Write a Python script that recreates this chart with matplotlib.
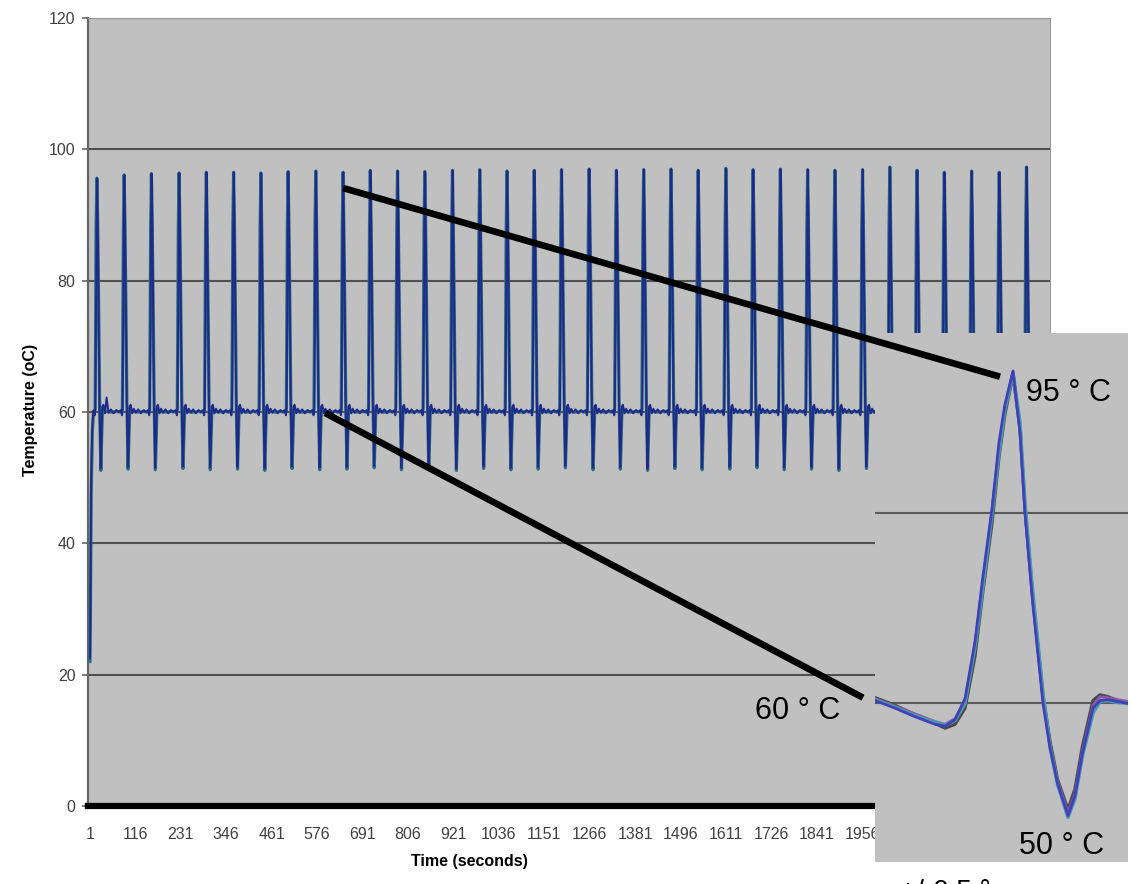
import numpy as np
import matplotlib.pyplot as plt
from matplotlib.patches import ConnectionPatch

plt.rcParams['font.family'] = ['Liberation Sans', 'DejaVu Sans']

# one entry per thermal cycle
peak_times = [19, 88, 157, 227, 296, 365, 434, 503, 573, 642, 711, 780, 849, 919, 988,
              1057, 1126, 1195, 1265, 1334, 1403, 1472, 1541, 1611, 1680, 1749, 1818,
              1887, 1957, 2026, 2095, 2164, 2233, 2303, 2372]
peak_temps = [95.6, 96.1, 96.3, 96.4, 96.5, 96.5, 96.4, 96.6, 96.7, 96.5, 96.8, 96.7,
              96.6, 96.8, 96.9, 96.7, 96.8, 96.9, 97.0, 96.8, 96.9, 97.0, 96.8, 97.1,
              96.9, 97.0, 96.9, 96.8, 96.9, 97.3, 96.8, 96.5, 96.7, 96.5, 97.3]
trough_temps = [51.4, 51.6, 51.5, 51.7, 51.5, 51.6, 51.4, 51.7, 51.5, 51.6, 51.8, 51.5,
                51.6, 51.4, 51.7, 51.5, 51.6, 51.8, 51.5, 51.6, 51.4, 51.7, 51.5, 51.6,
                51.8, 51.5, 51.6, 51.4, 51.7, 51.5, 51.6, 51.5, 51.7, 51.5, 51.6]

# shape of one cycle around its peak (seconds from peak, temperature);
# the PEAK / TROUGH slots are replaced by each cycle's own values
blue_offsets = [-9, -6, -4.5, -3, -1.5, 0, 1.5, 3.5, 6, 9, 11, 13, 16, 20, 24, 29, 35, 42, 49, 55]
blue_shape = [60.3, 59.5, 60.5, 72.0, 88.0, 96.0, 90.0, 78.0, 62.0, 51.5, 55.0, 60.8,
              61.1, 59.8, 60.5, 59.9, 60.4, 59.8, 60.3, 60.0]
teal_offsets = [-9, -6, -5, -4, -2.5, -0.5, 1.5, 4, 6.5, 9.5, 11.5, 13.5, 16, 20, 24, 29, 35, 42, 49, 55]
teal_shape = [60.0, 60.0, 60.5, 70.0, 88.0, 96.0, 89.0, 76.0, 61.0, 51.2, 56.0, 60.2,
              60.3, 60.0, 60.1, 60.0, 60.0, 60.0, 60.1, 60.0]
PEAK, TROUGH = 5, 9

# warm-up from room temperature
startup_t = [1, 2, 4, 7]
startup_blue = [22.5, 30.0, 50.0, 58.0]
startup_teal = [22.0, 28.0, 47.0, 57.0]
first_bump = 62.2  # overshoot after the first cycle
end_t, end_temp = 2430, 60.0

# zoomed view of one cycle (several overlaid runs)
inset_t = [0, 4, 8, 12, 14, 16, 18, 20, 21.5, 23.4, 24.8, 26, 27.6, 29, 30, 31.5, 33.6,
           35, 36.5, 38.6, 40, 41.5, 43.6, 45, 46.6, 48.5, 50.6]
inset_gray = [60.6, 59.8, 58.8, 57.9, 57.4, 57.8, 59.5, 65.0, 71.5, 79.0, 86.0, 90.5, 94.6,
              89.0, 80.5, 71.5, 60.8, 56.0, 52.0, 48.8, 51.0, 55.5, 60.3, 60.9, 60.7, 60.3, 60.1]
inset_pink = [60.5, 59.7, 58.9, 58.1, 57.8, 58.4, 60.2, 66.0, 72.5, 80.2, 87.0, 91.2, 94.9,
              88.8, 80.3, 71.0, 60.5, 55.6, 51.8, 48.5, 50.5, 55.0, 59.8, 60.7, 60.6, 60.4, 60.2]
inset_teal = [60.4, 59.6, 58.7, 58.0, 57.7, 58.2, 60.0, 66.0, 72.0, 80.0, 86.5, 91.0, 94.8,
              89.5, 81.0, 72.0, 61.0, 55.5, 51.5, 48.0, 50.0, 54.5, 59.0, 60.2, 60.3, 60.1, 60.0]
inset_blue = [60.3, 59.5, 58.6, 57.8, 57.6, 58.3, 60.5, 66.5, 73.0, 80.5, 87.5, 91.5, 95.0,
              88.5, 80.0, 70.8, 60.0, 55.3, 51.6, 48.2, 50.3, 54.8, 59.5, 60.3, 60.4, 60.2, 60.0]

xtick_pos = list(range(1, 1957, 115))
yticks = [0, 20, 40, 60, 80, 100, 120]


def build(offsets, shape, start_t, start_v, trough_shift):
    t, v = list(start_t), list(start_v)
    for p, hi, lo in zip(peak_times, peak_temps, trough_temps):
        vals = list(shape)
        vals[PEAK] = hi
        vals[TROUGH] = lo + trough_shift
        t += [p + o for o in offsets]
        v += vals
    t.append(end_t)
    v.append(end_temp)
    return np.array(t), np.array(v)


t_blue, v_blue = build(blue_offsets, blue_shape, startup_t, startup_blue, 0.0)
t_teal, v_teal = build(teal_offsets, teal_shape, startup_t, startup_teal, -0.3)
v_blue[len(startup_t) + 14] = first_bump

W, H = 1131, 884
fig = plt.figure(figsize=(W / 100, H / 100), dpi=100)
ax = fig.add_axes([88 / W, 1 - 806 / H, 962 / W, 788 / H])
ax.set_facecolor('#c0c0c0')

ax.plot(t_teal, v_teal, color='#2e6e80', lw=2.3, zorder=3)
ax.plot(t_blue, v_blue, color='#1e2a8a', lw=1.4, zorder=4)

ax.set_xlim(-4, 2431)
ax.set_ylim(0, 120)
ax.set_yticks(yticks)
ax.set_xticks(xtick_pos)
ax.set_xticklabels([str(x) for x in xtick_pos])
ax.yaxis.grid(True, color='#505050', lw=1.5)
ax.set_axisbelow(True)
ax.tick_params(axis='y', direction='out', length=4, width=1.2, color='#666666',
               pad=5, labelsize=11.5, labelcolor='#404040')
ax.tick_params(axis='x', length=0, pad=15, labelsize=11.5, labelcolor='#404040')
ax.spines['left'].set_color('#666666')
ax.spines['left'].set_linewidth(1.6)
for s in ['top', 'right']:
    ax.spines[s].set_color('#999999')
    ax.spines[s].set_linewidth(0.8)
ax.spines['bottom'].set_color('black')
ax.spines['bottom'].set_linewidth(4.5)

ax.set_xlabel('Time (seconds)', fontsize=11.5, fontweight='bold')
ax.xaxis.set_label_coords(0.397, -0.071)
ax.xaxis.label.set_va('center')
ax.set_ylabel('Temperature (oC)', fontsize=11.5, fontweight='bold')
ax.yaxis.set_label_coords(-0.060, 0.5025)
ax.yaxis.label.set_va('center')

# inset: one cycle zoomed in
axin = fig.add_axes([875 / W, 1 - 862 / H, 253 / W, 529 / H])
axin.set_facecolor('#c0c0c0')
axin.plot(inset_t, inset_gray, color='#4a4a4a', lw=2.4, zorder=3)
axin.plot(inset_t, inset_pink, color='#8a5aa8', lw=2.0, zorder=3)
axin.plot(inset_t, inset_teal, color='#4a9ab0', lw=2.6, zorder=3)
axin.plot(inset_t, inset_blue, color='#4040b8', lw=2.0, zorder=4)
axin.set_xlim(0, 50.6)
axin.set_ylim(43.3, 99)
axin.set_yticks([60, 80])
axin.yaxis.grid(True, color='#5a5a5a', lw=1.5)
axin.set_axisbelow(True)
axin.tick_params(left=False, bottom=False, labelleft=False, labelbottom=False)
for s in axin.spines.values():
    s.set_visible(False)

axin.text(30.2, 92.7, '95 ° C', fontsize=22, ha='left', va='center')
axin.text(-24, 59.2, '60 ° C', fontsize=22, ha='left', va='center')
axin.text(28.8, 45.0, '50 ° C', fontsize=22, ha='left', va='center')
fig.text(900 / W, 1 - 879 / H, '+/-0.5 °', fontsize=20, ha='left', va='top')

# callout lines from the main trace into the inset
for xa, xb in [((642, 94.1), (25, 94.4)), ((596, 59.85), (-2.4, 60.6))]:
    con = ConnectionPatch(xyA=xa, coordsA=ax.transData, xyB=xb, coordsB=axin.transData,
                          color='black', lw=4.8, capstyle='butt', zorder=5)
    fig.add_artist(con)

fig.savefig('out.png', dpi=100)
